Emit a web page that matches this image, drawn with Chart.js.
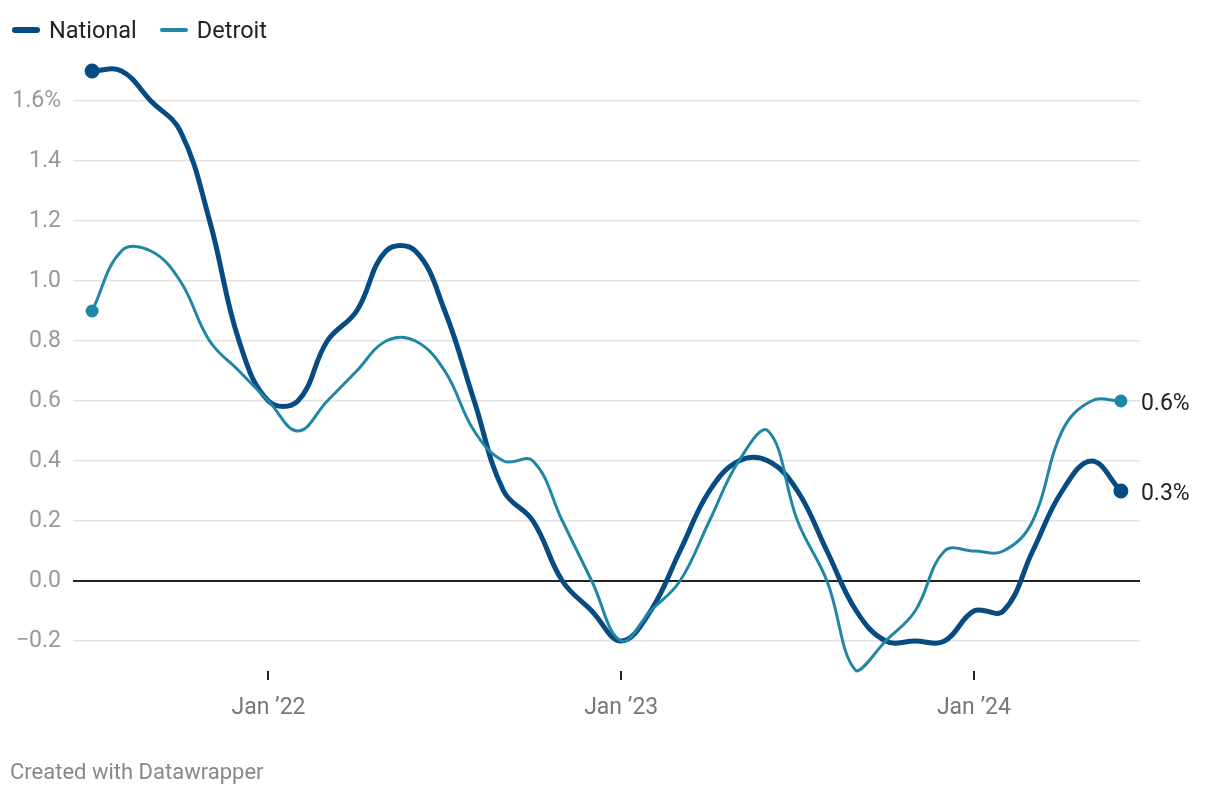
<!DOCTYPE html>
<html>
<head>
<meta charset="utf-8">
<script src="https://cdn.jsdelivr.net/npm/chart.js@4"></script>
<style>
  html, body { margin: 0; padding: 0; background: #fff; }
  body { width: 1220px; height: 796px; position: relative; overflow: hidden; font-family: Roboto, sans-serif; }
  #wrap { position: absolute; left: 0; top: 0; width: 1220px; height: 796px; }
  .legend { position: absolute; top: 16px; left: 12px; display: flex; align-items: center; font-size: 23.5px; color: #222; }
  .legend .item { display: flex; align-items: center; margin-right: 23px; }
  .legend .sw { width: 28px; border-radius: 4px; margin-right: 9px; }
  .footer { position: absolute; left: 10px; top: 759px; font-size: 22px; color: #888; }
</style>
</head>
<body>
<div id="wrap"><canvas id="chart"></canvas></div>
<div class="legend" id="legend"></div>
<div class="footer">Created with Datawrapper</div>
<script>
// monthly, Jul 2021 .. Jun 2024
const months = ['Jul 21','Aug 21','Sep 21','Oct 21','Nov 21','Dec 21',
  'Jan 22','Feb 22','Mar 22','Apr 22','May 22','Jun 22',
  'Jul 22','Aug 22','Sep 22','Oct 22','Nov 22','Dec 22',
  'Jan 23','Feb 23','Mar 23','Apr 23','May 23','Jun 23',
  'Jul 23','Aug 23','Sep 23','Oct 23','Nov 23','Dec 23',
  'Jan 24','Feb 24','Mar 24','Apr 24','May 24','Jun 24'];

const national = [1.7, 1.7, 1.6, 1.5, 1.2, 0.8,
  0.6, 0.6, 0.8, 0.9, 1.1, 1.1,
  0.9, 0.6, 0.3, 0.2, 0.0, -0.1,
  -0.2, -0.1, 0.1, 0.3, 0.4, 0.4,
  0.3, 0.1, -0.1, -0.2, -0.2, -0.2,
  -0.1, -0.1, 0.1, 0.3, 0.4, 0.3];

const detroit = [0.9, 1.1, 1.1, 1.0, 0.8, 0.7,
  0.6, 0.5, 0.6, 0.7, 0.8, 0.8,
  0.7, 0.5, 0.4, 0.4, 0.2, 0.0,
  -0.2, -0.1, 0.0, 0.2, 0.4, 0.5,
  0.2, 0.0, -0.3, -0.2, -0.1, 0.1,
  0.1, 0.1, 0.2, 0.5, 0.6, 0.6];

const xTickIndex = [6, 18, 30];
const xTickLabels = ['Jan \u201922', 'Jan \u201923', 'Jan \u201924'];
const yTicks = [-0.2, 0, 0.2, 0.4, 0.6, 0.8, 1.0, 1.2, 1.4, 1.6];

const seriesNames = ['National', 'Detroit'];
const colors = ['#064b81', '#1f87a5'];
const widths = [5, 3];

// legend
const legend = document.getElementById('legend');
seriesNames.forEach((n, i) => {
  legend.insertAdjacentHTML('beforeend',
    `<div class="item"><div class="sw" style="height:${i === 0 ? 6 : 4}px;background:${colors[i]}"></div>${n}</div>`);
});

const toPoints = arr => arr.map((v, i) => ({ x: i, y: v }));
const lastIdx = months.length - 1;
const endRadius = ctx => (ctx.dataIndex === 0 || ctx.dataIndex === lastIdx) ? 5 : 0;

// value labels at the end of each line
const endLabels = {
  id: 'endLabels',
  afterDatasetsDraw(chart) {
    const ctx = chart.ctx;
    ctx.save();
    ctx.font = '23px Roboto';
    ctx.fillStyle = '#222';
    ctx.textBaseline = 'middle';
    chart.data.datasets.forEach((ds, i) => {
      const pt = chart.getDatasetMeta(i).data[lastIdx];
      const v = ds.data[lastIdx].y;
      ctx.fillText(v.toFixed(1) + '%', pt.x + 20, pt.y + 3);
    });
    ctx.restore();
  }
};

new Chart(document.getElementById('chart'), {
  type: 'line',
  data: {
    datasets: [
      { label: seriesNames[1], data: toPoints(detroit), borderColor: colors[1], backgroundColor: colors[1],
        borderWidth: widths[1], tension: 0.4, pointRadius: endRadius, pointHoverRadius: 0, clip: false },
      { label: seriesNames[0], data: toPoints(national), borderColor: colors[0], backgroundColor: colors[0],
        borderWidth: widths[0], tension: 0.4, pointRadius: endRadius, pointHoverRadius: 0, clip: false,
        borderCapStyle: 'round', borderJoinStyle: 'round' }
    ]
  },
  plugins: [endLabels],
  options: {
    responsive: true,
    maintainAspectRatio: false,
    animation: false,
    layout: { padding: { top: 56, right: 80, left: 0, bottom: 0 } },
    plugins: { legend: { display: false }, tooltip: { enabled: false } },
    scales: {
      x: {
        type: 'linear',
        min: -0.65,
        max: 35.65,
        afterBuildTicks: s => { s.ticks = xTickIndex.map(v => ({ value: v })); },
        afterFit: s => { s.height = 125; },
        ticks: {
          autoSkip: false,
          maxRotation: 0,
          padding: 14,
          color: '#777',
          font: { family: 'Roboto', size: 23 },
          callback: v => xTickLabels[xTickIndex.indexOf(v)]
        },
        grid: { drawOnChartArea: false, drawTicks: true, tickLength: 9, color: '#222', lineWidth: 2 },
        border: { display: false }
      },
      y: {
        min: -0.3,
        max: 1.75,
        afterBuildTicks: s => { s.ticks = yTicks.map(v => ({ value: v })); },
        afterFit: s => { s.width = 73; },
        ticks: {
          padding: 12,
          color: '#999',
          font: { family: 'Roboto', size: 23 },
          callback: v => {
            const t = v.toFixed(1).replace('-', '\u2212');
            return v === 1.6 ? t + '%' : t;
          }
        },
        grid: {
          drawTicks: false,
          color: c => c.tick && c.tick.value === 0 ? '#222' : '#e3e3e3',
          lineWidth: c => c.tick && c.tick.value === 0 ? 2 : 1.5
        },
        border: { display: false }
      }
    }
  }
});
</script>
</body>
</html>
